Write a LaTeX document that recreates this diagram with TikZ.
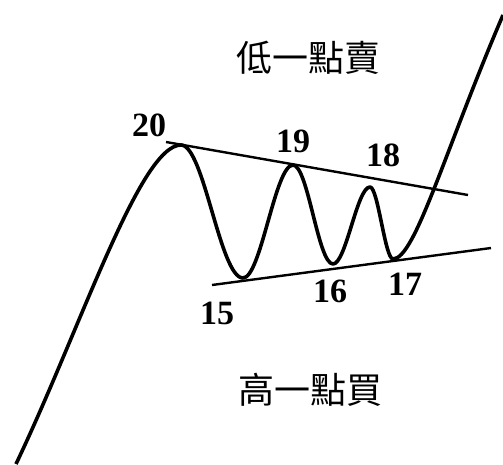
\documentclass[tikz,border=0pt]{standalone}
\usepackage{fontspec}
\setmainfont{Liberation Serif}
\newfontfamily\cjkfont{Noto Sans CJK TC}
\tikzset{
    wave/.style={black, line width=3.6pt, line join=round},
    trend/.style={black, line width=2.4pt},
    pointlabel/.style={font=\fontsize{34}{34}\selectfont\bfseries, inner sep=0pt},
    hintlabel/.style={font=\cjkfont\fontsize{36}{36}\selectfont, inner sep=0pt}
}
\begin{document}
\begin{tikzpicture}[x=1pt, y=-1pt]
    \useasboundingbox (0,0) rectangle (503,464);

    \coordinate (start) at (16,464);
    \coordinate (p20) at (181,145);
    \coordinate (p15) at (243,278);
    \coordinate (p19) at (293,165);
    \coordinate (p16) at (333,264);
    \coordinate (p18) at (370,187);
    \coordinate (p17) at (393,259);
    \coordinate (finish) at (503,15);

    \coordinate (upA) at (166,142);
    \coordinate (upB) at (468,195);
    \coordinate (lowA) at (212,285);
    \coordinate (lowB) at (491,248);

    \draw[trend] (upA) -- (upB);
    \draw[trend] (lowA) -- (lowB);

    \draw[wave] (start) .. controls (80,330) and (140,145) .. (p20)
        .. controls (204,145) and (220,278) .. (p15)
        .. controls (261,278) and (275,165) .. (p19)
        .. controls (308,165) and (318,264) .. (p16)
        .. controls (346,264) and (357,187) .. (p18)
        .. controls (378,187) and (385,259) .. (p17)
        .. controls (415,259) and (445,150) .. (finish);

    \node[pointlabel] (l20) at (149,125) {20};
    \node[pointlabel] (l19) at (293,141) {19};
    \node[pointlabel] (l18) at (383,155) {18};
    \node[pointlabel] (l15) at (217,313) {15};
    \node[pointlabel] (l16) at (330,291) {16};
    \node[pointlabel] (l17) at (405,284) {17};

    \node[hintlabel] (sell) at (308,58) {低一點賣};
    \node[hintlabel] (buy) at (310,390) {高一點買};
\end{tikzpicture}
\end{document}
